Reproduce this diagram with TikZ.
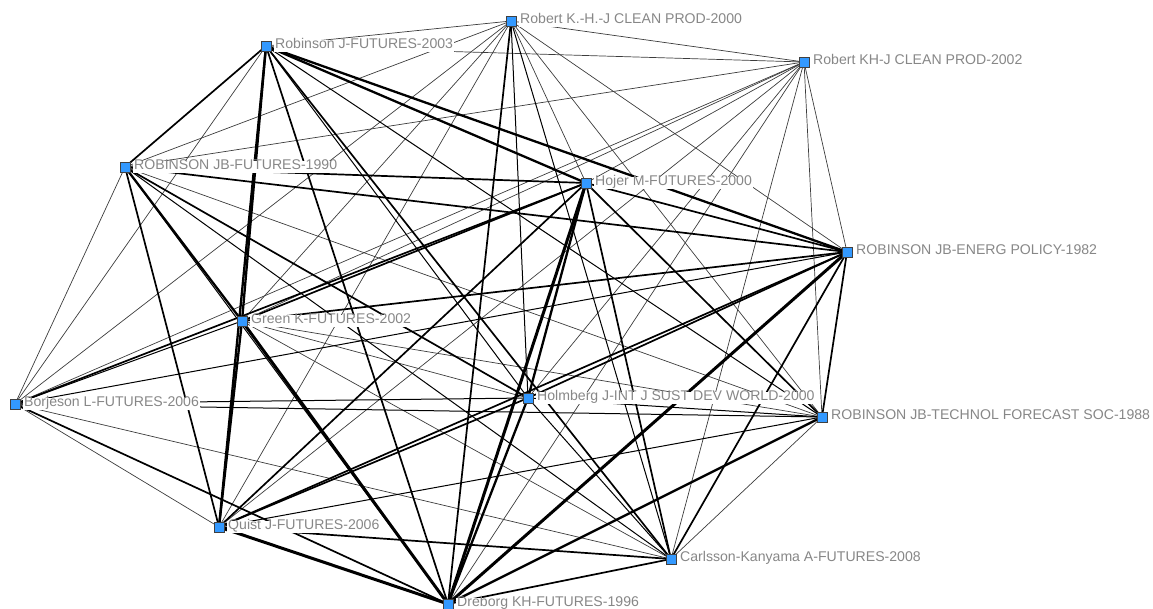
\documentclass[tikz,border=0pt]{standalone}
\usepackage{fontspec}
\setmainfont{Liberation Sans}
\definecolor{nodeblue}{RGB}{51,153,255}
\definecolor{labelgray}{RGB}{135,135,135}
\definecolor{thingray}{RGB}{60,60,60}
\begin{document}
\begin{tikzpicture}[x=1pt,y=-1pt,
  vtx/.style={draw=black!75,line width=0.7pt,fill=nodeblue,minimum size=10pt,inner sep=0pt,outer sep=0pt},
  lbl/.style={anchor=west,fill=white,inner sep=1pt,text=labelgray,font=\fontsize{14.1}{15}\selectfont,text height=0.72em,text depth=0.2em},
  ea/.style={draw=thingray,line width=0.7pt},
  eb/.style={draw=black,line width=1.0pt},
  ec/.style={draw=black,line width=1.7pt},
  ed/.style={draw=black,line width=2.3pt},
  ee/.style={draw=black,line width=3.0pt}]
\useasboundingbox (0,0) rectangle (1153,609);
\coordinate (A) at (511,21);
\coordinate (B) at (266,46);
\coordinate (C) at (804,62);
\coordinate (D) at (125,167);
\coordinate (E) at (586,183);
\coordinate (F) at (847,252);
\coordinate (G) at (242,321);
\coordinate (H) at (15,404);
\coordinate (I) at (528,398);
\coordinate (J) at (822,417);
\coordinate (K) at (219,527);
\coordinate (L) at (671,559);
\coordinate (M) at (448,604);
% edges
\foreach \p/\q/\s in {
 A/D/ea,A/E/ea,A/F/ea,A/G/ea,A/H/ea,A/J/ea,A/K/ea,A/B/ea,A/C/ea,
 B/C/ea,B/H/ea,
 C/D/ea,C/E/ea,C/G/ea,C/H/ea,C/I/ea,C/K/ea,C/L/ea,C/M/ea,C/F/ea,C/J/ea,
 D/H/ea,D/J/ea,
 G/I/ea,G/J/ea,G/L/ea,
 H/K/ea,H/L/ea,
 J/L/ea,
 A/I/eb,A/L/eb,
 B/I/eb,B/J/eb,
 D/L/eb,D/M/eb,F/H/eb,G/H/eb,H/I/eb,H/J/eb,I/J/eb,I/L/eb,J/K/eb,
 A/M/ec,B/D/ec,B/L/ec,B/M/ec,D/E/ec,D/F/ec,D/I/ec,D/K/ec,
 E/F/ec,E/G/ec,E/H/ec,E/J/ec,E/K/ec,E/L/ec,
 F/G/ec,F/I/ec,F/J/ec,F/K/ec,F/L/ec,H/M/ec,I/K/ec,K/L/ec,L/M/ec,
 B/E/ed,B/F/ed,B/G/ed,B/K/ed,D/G/ed,E/I/ed,G/K/ed,I/M/ed,J/M/ed,
 E/M/ee,F/M/ee,G/M/ee,K/M/ee}
 {\path[\s] (\p) -- (\q);}
% vertices
\node[vtx] (nA) at (A) {};
\node[vtx] (nB) at (B) {};
\node[vtx] (nC) at (C) {};
\node[vtx] (nD) at (D) {};
\node[vtx] (nE) at (E) {};
\node[vtx] (nF) at (F) {};
\node[vtx] (nG) at (G) {};
\node[vtx] (nH) at (H) {};
\node[vtx] (nI) at (I) {};
\node[vtx] (nJ) at (J) {};
\node[vtx] (nK) at (K) {};
\node[vtx] (nL) at (L) {};
\node[vtx] (nM) at (M) {};
% labels
\node[lbl] (lA) at ([xshift=8pt]A) {Robert K.-H.-J CLEAN PROD-2000};
\node[lbl] (lB) at ([xshift=8pt]B) {Robinson J-FUTURES-2003};
\node[lbl] (lC) at ([xshift=8pt]C) {Robert KH-J CLEAN PROD-2002};
\node[lbl] (lD) at ([xshift=8pt]D) {ROBINSON JB-FUTURES-1990};
\node[lbl] (lE) at ([xshift=8pt]E) {Hojer M-FUTURES-2000};
\node[lbl] (lF) at ([xshift=8pt]F) {ROBINSON JB-ENERG POLICY-1982};
\node[lbl] (lG) at ([xshift=8pt]G) {Green K-FUTURES-2002};
\node[lbl] (lH) at ([xshift=8pt]H) {Borjeson L-FUTURES-2006};
\node[lbl] (lI) at ([xshift=8pt]I) {Holmberg J-INT J SUST DEV WORLD-2000};
\node[lbl] (lJ) at ([xshift=8pt]J) {ROBINSON JB-TECHNOL FORECAST SOC-1988};
\node[lbl] (lK) at ([xshift=8pt]K) {Quist J-FUTURES-2006};
\node[lbl] (lL) at ([xshift=8pt]L) {Carlsson-Kanyama A-FUTURES-2008};
\node[lbl] (lM) at ([xshift=8pt]M) {Dreborg KH-FUTURES-1996};
\end{tikzpicture}
\end{document}
